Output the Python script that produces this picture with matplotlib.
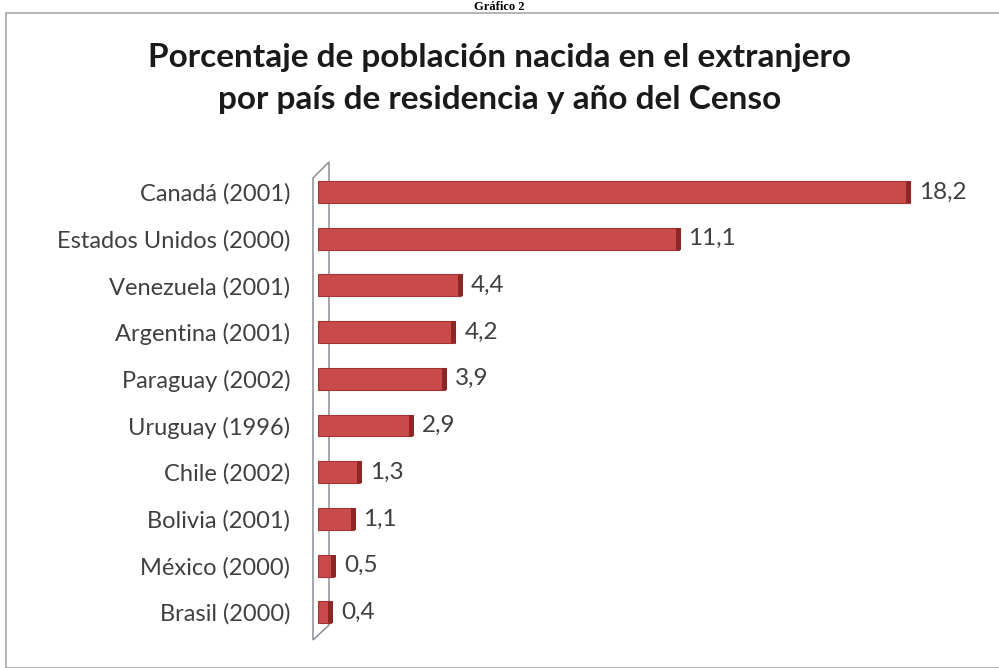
import matplotlib.pyplot as plt
from matplotlib.patches import Polygon, Rectangle

paises = ['Canadá (2001)', 'Estados Unidos (2000)', 'Venezuela (2001)',
          'Argentina (2001)', 'Paraguay (2002)', 'Uruguay (1996)',
          'Chile (2002)', 'Bolivia (2001)', 'México (2000)', 'Brasil (2000)']
porcentajes = [18.2, 11.1, 4.4, 4.2, 3.9, 2.9, 1.3, 1.1, 0.5, 0.4]
etiquetas = ['18,2', '11,1', '4,4', '4,2', '3,9', '2,9', '1,3', '1,1', '0,5', '0,4']

plt.rcParams['font.family'] = ['Lato', 'DejaVu Sans']

fig = plt.figure(figsize=(9.99, 6.68), dpi=100)
W, H = 999, 668

# marco gris del gráfico
fig.patches.append(Rectangle((6 / W, 0), 1, 1 - 13 / H, transform=fig.transFigure,
                             fill=False, edgecolor='#a8a8a8', lw=1.2))

# encabezado
fig.text(0.5, 1 - 1 / H, 'Gráfico 2', ha='center', va='top',
         family='Liberation Serif', weight='bold', fontsize=9)

fig.text(0.5, 1 - 58 / H, 'Porcentaje de población nacida en el extranjero',
         ha='center', va='center', fontsize=24, weight='bold', color='#1a1a1a')
fig.text(0.5, 1 - 100 / H, 'por país de residencia y año del Censo',
         ha='center', va='center', fontsize=24, weight='bold', color='#1a1a1a')

x0, px_unit = 318, 32.5
y0, px_row = 192, 46.7
ax_left, ax_right = x0, 995
ax_top, ax_bot = 155, 645
ax = fig.add_axes([ax_left / W, 1 - ax_bot / H, (ax_right - ax_left) / W,
                   (ax_bot - ax_top) / H])
ax.set_xlim(0, (ax_right - x0) / px_unit)
ax.set_ylim((ax_bot - y0) / px_row, (ax_top - y0) / px_row)
ax.patch.set_alpha(0)
for s in ax.spines.values():
    s.set_visible(False)
ax.set_xticks([])

# pared lateral en perspectiva
pared = Polygon([(-5 / px_unit, (178 - y0) / px_row), (11 / px_unit, (162 - y0) / px_row),
                 (11 / px_unit, (625 - y0) / px_row), (-5 / px_unit, (640 - y0) / px_row)],
                closed=True, fill=False, edgecolor='#8a9096', lw=1.1, clip_on=False)
ax.add_patch(pared)

pos = list(range(len(paises)))
ax.barh(pos, porcentajes, height=0.47, color='#c94a4a', edgecolor='#a33634',
        lw=0.8, zorder=3)
# tapa oscura al final de cada barra
for i, v in enumerate(porcentajes):
    ax.barh(i, 0.16, left=v - 0.1, height=0.47, color='#8c2725',
            edgecolor='none', zorder=4)
    ax.text(v + 0.3, i, etiquetas[i], va='center', ha='left', fontsize=17.5,
            color='#404040')

ax.set_yticks(pos)
ax.set_yticklabels(paises, fontsize=17, color='#404040')
ax.tick_params(axis='y', length=0, pad=20)

fig.savefig('out.png', dpi=100)
